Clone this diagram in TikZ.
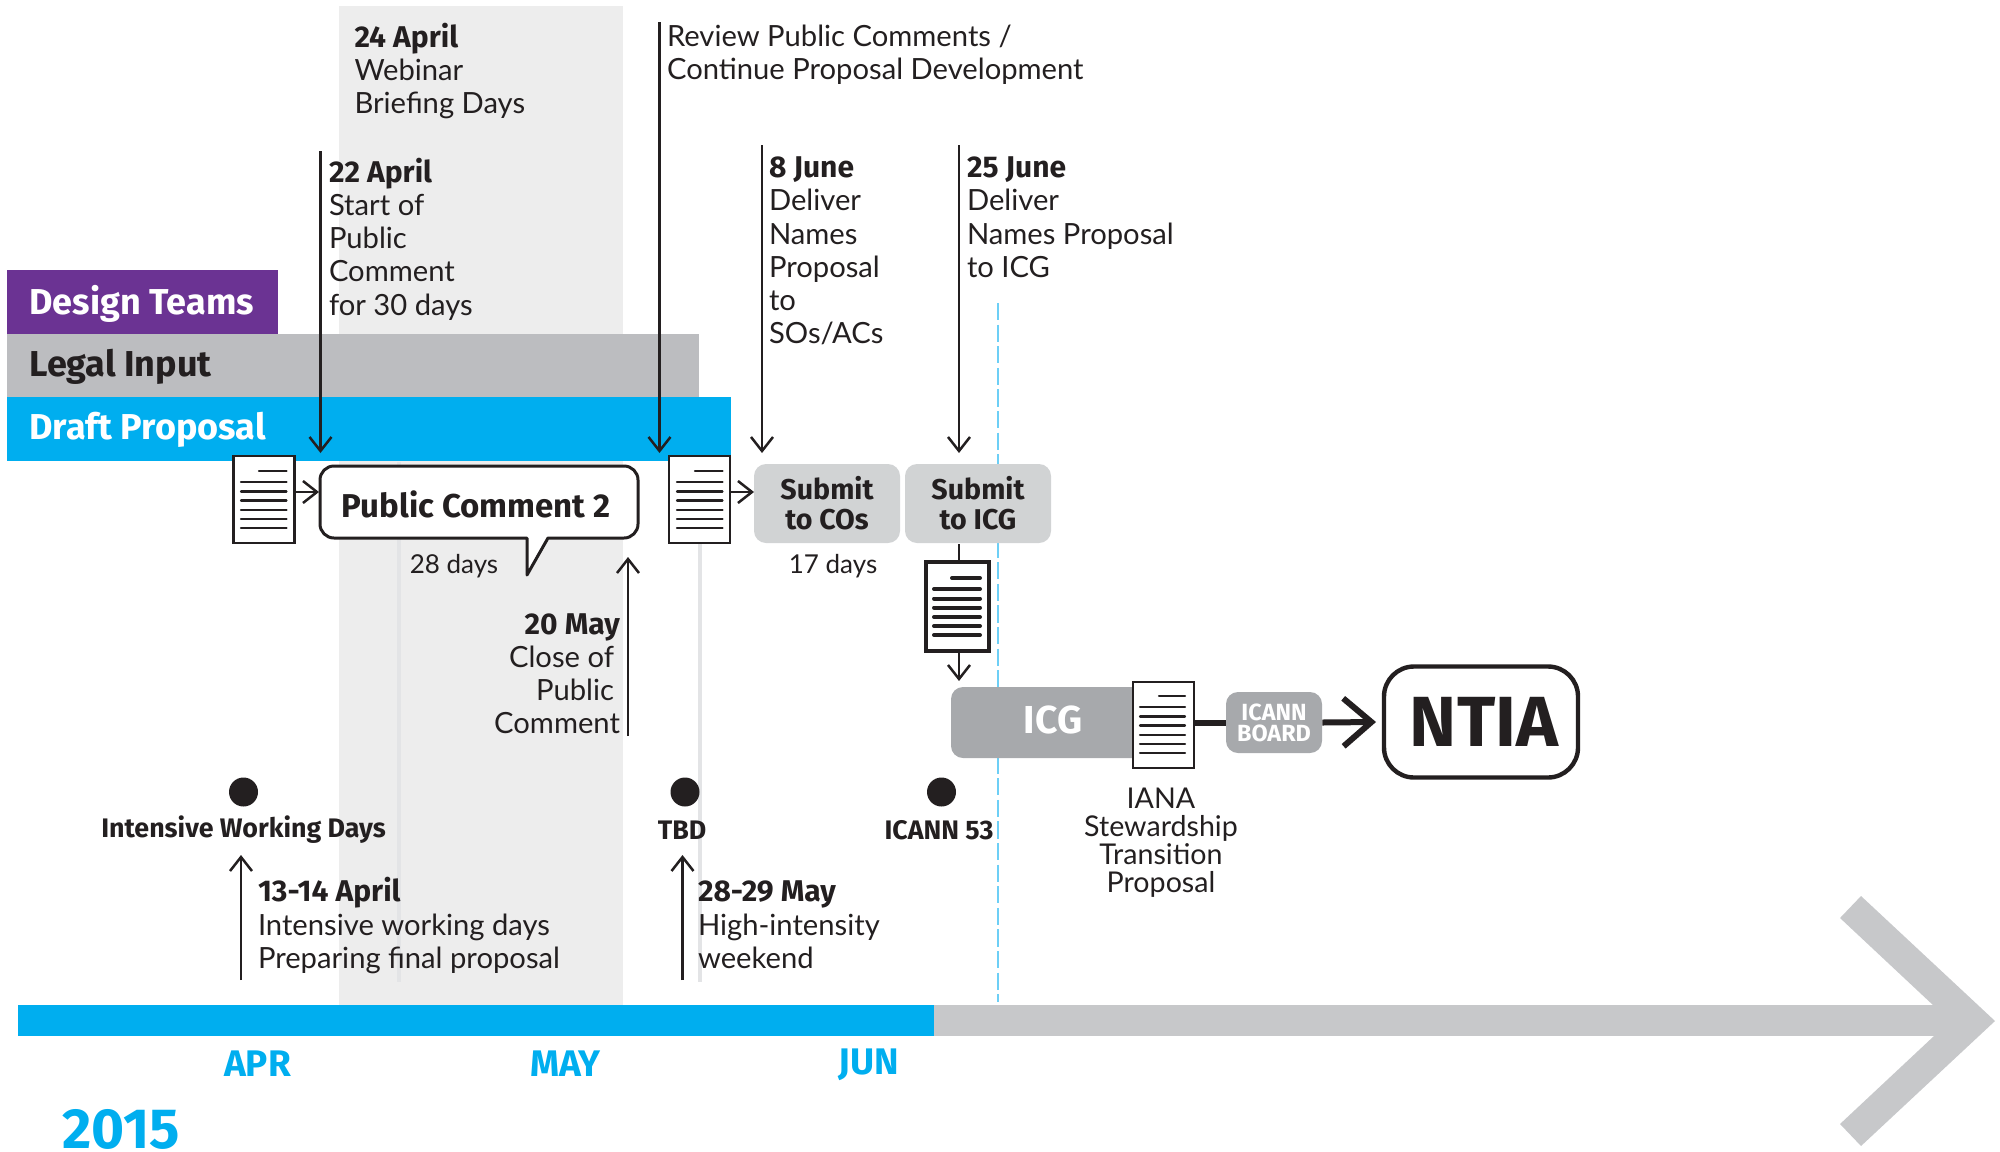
\documentclass[tikz,border=0pt]{standalone}
\usepackage{fontspec}
\setmainfont{Lato}[BoldFont={Fira Sans Bold}]
\usetikzlibrary{arrows.meta}
\definecolor{ink}{HTML}{231F20}
\definecolor{cyanb}{HTML}{00AEEF}
\definecolor{purp}{HTML}{6B3393}
\definecolor{band}{HTML}{EDEDED}
\definecolor{legal}{HTML}{BCBDC0}
\definecolor{boxg}{HTML}{D1D3D4}
\definecolor{icgg}{HTML}{A7A9AC}
\definecolor{barg}{HTML}{C7C8CA}
\definecolor{faint}{HTML}{E3E4E6}
\definecolor{dashb}{HTML}{6DCFF6}
\newcommand{\hd}[1]{{\fontsize{15}{16.6}\selectfont\bfseries #1}}
\tikzset{
 x=0.5pt,y=-0.5pt,
 lbl/.style={inner sep=0pt,outer sep=0pt,text=ink,font=\fontsize{14.6}{16.6}\selectfont,align=left,anchor=north west},
 lblr/.style={lbl,align=right,anchor=north east},
 barlbl/.style={inner sep=0pt,anchor=west,font=\fontsize{18}{20}\selectfont\bfseries},
 thinarrow/.style={ink,line width=1.25pt,-{Straight Barb[length=7pt,width=11pt,line width=1.25pt]}},
 thinline/.style={ink,line width=1.25pt},
 docbox/.style={draw=ink,fill=white,line width=1.4pt,inner sep=0pt,minimum width=30.5pt,minimum height=43.5pt},
 subbox/.style={fill=boxg,rounded corners=6pt,inner sep=0pt,minimum width=73pt,minimum height=39.5pt,text=ink,align=center,font=\fontsize{14.3}{15}\selectfont\bfseries},
 dotn/.style={circle,fill=ink,inner sep=0pt,minimum size=14.5pt},
 dotlbl/.style={inner sep=0pt,text=ink,font=\fontsize{13.4}{15}\selectfont\bfseries},
 month/.style={inner sep=0pt,text=cyanb,font=\fontsize{18.5}{20}\selectfont\bfseries},
}
\newcommand{\doclines}[7]{%
 \draw[ink,line width=#7,line cap=round] (#1+#3,#2) -- (#1+#4,#2);
 \foreach \dy in {11,20.5,29.5,39,48,57}
   \draw[ink,line width=#7,line cap=round] (#1,#2+\dy) -- (#1+#4,#2+\dy);
}
\begin{document}
\begin{tikzpicture}
\useasboundingbox (0,0) rectangle (2000,1151);
% background band and faint guides
\fill[band] (339,6) rectangle (623,1005);
\draw[faint,line width=2pt] (399,462) -- (399,982);
\draw[faint,line width=2pt] (700,543) -- (700,982);
\draw[dashb,line width=1.25pt,dash pattern=on 8.6pt off 2.2pt] (998,303) -- (998,1002);
% stacked bars
\node[fill=purp,inner sep=0pt,anchor=north west,minimum width=135.5pt,minimum height=32pt] (dt) at (7,270) {};
\node[fill=legal,inner sep=0pt,anchor=north west,minimum width=346pt,minimum height=31.5pt] (li) at (7,334) {};
\node[fill=cyanb,inner sep=0pt,anchor=north west,minimum width=362pt,minimum height=32pt] (dp) at (7,397) {};
\node[barlbl,text=white] (dtt) at (29,303.5) {Design Teams};
\node[barlbl,text=ink] (lit) at (29,366.5) {Legal Input};
\node[barlbl,text=white] (dpt) at (29,429.5) {Draft Proposal};
% timeline
\fill[cyanb] (18,1005) rectangle (934,1036);
\fill[barg] (934,1005) rectangle (1965,1036);
\fill[barg] (1861,896) -- (1995,1021) -- (1861,1146) -- (1840,1124) -- (1950,1021) -- (1840,918) -- cycle;
\node[month] (apr) at (257.5,1064) {APR};
\node[month] (may) at (565.5,1064) {MAY};
\node[month] (jun) at (869,1065) {JUN};
\node[inner sep=0pt,text=cyanb,font=\fontsize{28.3}{30}\selectfont\bfseries] (yr) at (121,1129) {2015};
% documents
\node[docbox] (d1) at (263.75,499.5) {};
\doclines{241}{471}{18}{45.5}{}{}{1.1pt}
\node[docbox] (d2) at (699.5,499.5) {};
\doclines{677}{471}{18}{45.5}{}{}{1.1pt}
\node[docbox,line width=2pt,minimum width=31.5pt,minimum height=44.5pt] (d3) at (957.5,606.5) {};
\doclines{934}{578}{18}{46}{}{}{2pt}
% callout
\node[inner sep=0pt,minimum width=159pt,minimum height=36pt] (pc) at (479,502) {};
\draw[ink,fill=white,line width=1.5pt,line join=round]
 (334,466) -- (624,466) arc[start angle=90,end angle=0,radius=7pt] -- (638,524) arc[start angle=0,end angle=-90,radius=7pt]
 -- (548,538) -- (527,575) -- (527,538) -- (334,538) arc[start angle=270,end angle=180,radius=7pt] -- (320,480) arc[start angle=180,end angle=90,radius=7pt] -- cycle;
\node[inner sep=0pt,text=ink,font=\fontsize{16.5}{18}\selectfont\bfseries] (pct) at (476,504) {Public Comment 2};
\node[lbl,anchor=center,font=\fontsize{13}{15}\selectfont] (d28) at (454,566) {28 days};
\node[lbl,anchor=center,font=\fontsize{13}{15}\selectfont] (d17) at (833,566) {17 days};
% submit boxes
\node[subbox] (sc) at (827,503.5) {Submit\\to COs};
\node[subbox] (si) at (978,503.5) {Submit\\to ICG};
% ICG row
\fill[icgg,rounded corners=6pt] (951,687) rectangle (1150,758);
\coordinate (icgtop) at (959,687);
\node[inner sep=0pt,text=white,font=\fontsize{19.5}{20}\selectfont\bfseries] (icg) at (1053,720) {ICG};
\node[docbox,minimum width=30.5pt,minimum height=43pt] (d4) at (1163.5,725) {};
\doclines{1140}{696}{19}{45}{}{}{1.1pt}
\node[fill=icgg,rounded corners=6pt,inner sep=0pt,minimum width=48pt,minimum height=30.5pt,text=white,align=center,font=\fontsize{11.7}{10.5}\selectfont\bfseries] (ib) at (1274,722.5) {ICANN\\BOARD};
\node[draw=ink,line width=2.2pt,rounded corners=15pt,inner sep=0pt,minimum width=97pt,minimum height=55.5pt,text=ink,font=\fontsize{35.5}{36}\selectfont\bfseries] (ntia) at (1481,722) {\hspace*{3pt}NTIA};
\draw[ink,line width=3pt] (d4.east |- ib.west) -- (ib.west);
\coordinate (ntiaend) at (1376,722);
\draw[ink,line width=3pt,-{Straight Barb[length=14pt,width=24pt,line width=3pt]}] (ib.east) -- (ntiaend);
% connectors
\coordinate (a1) at (320.5,151); \coordinate (a1e) at (320.5,453);
\coordinate (a2) at (659.5,22);  \coordinate (a2e) at (659.5,453);
\coordinate (a3) at (762,145);   \coordinate (a3e) at (762,453);
\coordinate (a4) at (959,145);   \coordinate (a4e) at (959,453);
\draw[thinarrow] (a1) -- (a1e);
\draw[thinarrow] (a2) -- (a2e);
\draw[thinarrow] (a3) -- (a3e);
\draw[thinarrow] (a4) -- (a4e);
\coordinate (p1) at (319,492);
\coordinate (p2) at (754,492);
\draw[thinarrow] (d1.east |- p1) -- (p1);
\draw[thinarrow] (d2.east |- p2) -- (p2);
\draw[thinline] (959,544) -- (959,562);
\draw[thinarrow] (959,651) -- (959,681);
\coordinate (u1) at (628,736); \coordinate (u1e) at (628,557);
\draw[thinarrow] (u1) -- (u1e);
\coordinate (u2) at (241,980); \coordinate (u2e) at (241,855);
\draw[thinarrow] (u2) -- (u2e);
\coordinate (u3) at (682.5,980); \coordinate (u3e) at (682.5,855);
\draw[thinarrow] (u3) -- (u3e);
% dots
\node[dotn] (n1) at (243.5,792) {};
\node[dotn] (n2) at (685,792) {};
\node[dotn] (n3) at (941.5,792) {};
\node[dotlbl] (l1) at (243.5,830) {Intensive Working Days};
\node[dotlbl] (l2) at (682,830) {TBD};
\node[dotlbl] (l3) at (939,830) {ICANN 53};
% labels
\node[lbl] (t1) at (354.5,23) {\hd{24 April}\\Webinar\\Briefing Days};
\node[lbl] (t2) at (329,158) {\hd{22 April}\\Start of\\Public\\Comment\\for 30 days};
\node[lbl] (t3) at (667,25) {Review Public Comments /\\Continue Proposal Development};
\node[lbl] (t4) at (769,157) {\hd{8 June}\\Deliver\\Names\\Proposal\\to\\SOs/ACs};
\node[lbl] (t5) at (967,157) {\hd{25 June}\\Deliver\\Names Proposal\\to ICG};
\node[lblr] (t6) at (620,613.5) {\hd{20 May}\\Close of\rule{3pt}{0pt}\\Public\rule{3pt}{0pt}\\Comment};
\node[lbl] (t7) at (258,877.5) {\hd{13-14 April}\\Intensive working days\\Preparing final proposal};
\node[lbl] (t8) at (698,881) {\hd{28-29 May}\\High-intensity\\weekend};
\node[inner sep=0pt,text=ink,align=center,font=\fontsize{14.3}{14}\selectfont,anchor=north] (t9) at (1161,787.5) {IANA\\Stewardship\\Transition\\Proposal};
\end{tikzpicture}
\end{document}
